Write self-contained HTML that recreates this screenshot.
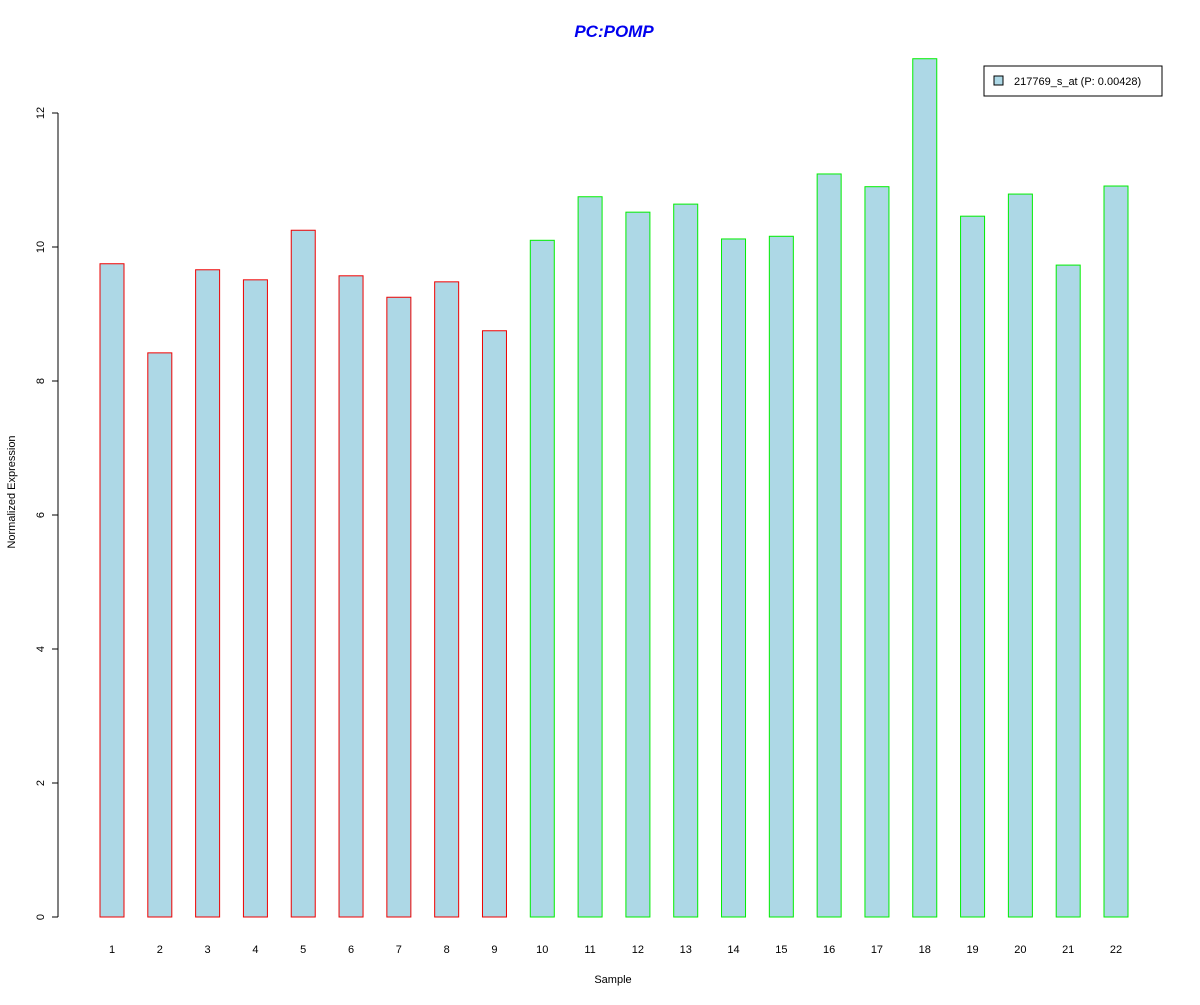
<!DOCTYPE html>
<html><head><meta charset="utf-8"><style>
body{margin:0;background:#fff;}
svg text{font-family:"Liberation Sans",Arial,sans-serif;}
</style></head><body>
<svg width="1200" height="1000" xmlns="http://www.w3.org/2000/svg">
<rect width="1200" height="1000" fill="#fff"/>
<text x="614" y="37" text-anchor="middle" font-size="17" font-weight="bold" font-style="italic" fill="#0000ee">PC:POMP</text>
<g id="yaxis"></g>
<g id="bars"></g>
<g id="xlabels"></g>
<text x="613" y="983" text-anchor="middle" font-size="11">Sample</text>
<text transform="translate(15,492) rotate(-90)" text-anchor="middle" font-size="11">Normalized Expression</text>
<g>
<rect x="984" y="66" width="178" height="30" fill="#fff" stroke="#000"/>
<rect x="994" y="76" width="9" height="9" fill="#add8e6" stroke="#000"/>
<text x="1014" y="85" font-size="11">217769_s_at (P: 0.00428)</text>
</g>
</svg>
<script>
const categories=["1","2","3","4","5","6","7","8","9","10","11","12","13","14","15","16","17","18","19","20","21","22"];
const values=[9.75,8.42,9.66,9.51,10.25,9.57,9.25,9.48,8.75,10.10,10.75,10.52,10.64,10.12,10.16,11.09,10.90,12.81,10.46,10.79,9.73,10.91];
const groups=["r","r","r","r","r","r","r","r","r","g","g","g","g","g","g","g","g","g","g","g","g","g"];
const yTicks=[0,2,4,6,8,10,12];
const NS="http://www.w3.org/2000/svg";
const y=v=>917-v*67;
const x=i=>112+i*(1116-112)/21;
const ya=document.getElementById('yaxis');
function mk(t,a,p){const e=document.createElementNS(NS,t);for(const k in a)e.setAttribute(k,a[k]);p.appendChild(e);return e;}
const al=mk('line',{x1:58,x2:58,y1:y(0),y2:y(12),stroke:'#000'},ya);


yTicks.forEach(t=>{
 const l=mk('line',{x1:52,x2:58,y1:y(t),y2:y(t),stroke:'#000'},ya);
 
 
 const tx=mk('text',{transform:`translate(44,${y(t)}) rotate(-90)`,'text-anchor':'middle','font-size':11},ya);
 tx.textContent=t;
 
 
});
const bg=document.getElementById('bars'),xl=document.getElementById('xlabels');
values.forEach((v,i)=>{
 const r=mk('rect',{x:x(i)-12,y:y(v),width:24,height:y(0)-y(v),fill:'#add8e6',stroke:groups[i]==='r'?'#ee0000':'#00ee00'},bg);
 
 
 const t=mk('text',{x:x(i),y:953,'text-anchor':'middle','font-size':11},xl);
 t.textContent=categories[i];
 
 
});
</script>
</body></html>
